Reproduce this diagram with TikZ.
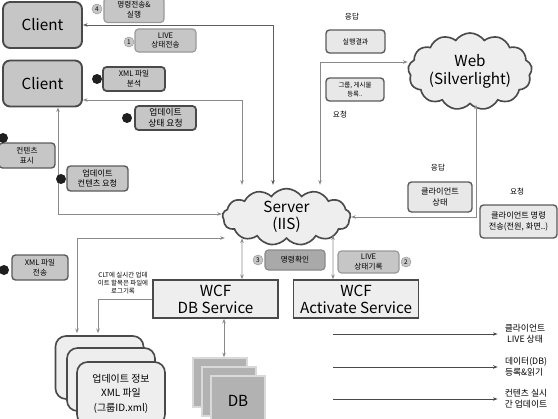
\documentclass[tikz,border=0pt]{standalone}
\usepackage{fontspec}
\setmainfont{Noto Sans CJK KR}
\usetikzlibrary{arrows.meta,positioning,shapes.symbols,calc}

\definecolor{edgedark}{HTML}{4A4A4A}
\definecolor{edgemid}{HTML}{5C5C5C}
\definecolor{edgelight}{HTML}{999999}
\definecolor{fillmid}{HTML}{C6C6C6}
\definecolor{filllight}{HTML}{E8E8E8}
\definecolor{fillpale}{HTML}{EEEEEE}
\definecolor{filldark}{HTML}{A9A9A9}
\definecolor{fillDB}{HTML}{B2B2B2}
\definecolor{linegray}{HTML}{8A8A8A}

\begin{document}
\begin{tikzpicture}[x=0.03cm,y=-0.03cm,
	client/.style={rectangle, rounded corners=6pt, draw=edgedark, fill=fillmid, line width=1.6pt, minimum width=2.37cm, minimum height=1.38cm, font=\fontsize{13}{15}\selectfont},
	srvcloud/.style={cloud, cloud puffs=13, cloud puff arc=110, aspect=2.3, draw=edgedark, fill=fillpale, line width=1.4pt, font=\fontsize{13}{15}\selectfont, align=center, inner sep=0pt},
	wcf/.style={rectangle, draw=edgedark, fill=fillpale, line width=1.4pt, minimum width=3.74cm, minimum height=1.14cm, font=\fontsize{13}{14.5}\selectfont, align=center, inner sep=1pt},
	xmlfile/.style={rectangle, rounded corners=9pt, draw=edgedark, fill=fillpale, line width=1.4pt, minimum width=2.64cm, minimum height=1.89cm},
	dbpage/.style={rectangle, draw=white!85!black, fill=fillDB, line width=1.2pt, minimum width=1.62cm, minimum height=1.47cm, font=\fontsize{13}{15}\selectfont},
	tag/.style={rectangle, rounded corners=3pt, align=center, inner sep=1pt, line width=1pt, font=\fontsize{6.5}{8.5}\selectfont},
	softtag/.style={tag, draw=edgelight, fill=fillmid},
	hardtag/.style={tag, draw=edgedark, fill=fillmid, line width=1.5pt},
	midtag/.style={tag, draw=edgemid, fill=fillmid, line width=1.2pt},
	webtag/.style={tag, draw=edgemid, fill=filllight, line width=1.2pt},
	numdot/.style={circle, draw=edgelight, fill=fillmid, minimum size=0.3cm, inner sep=0pt, font=\fontsize{5.5}{6}\selectfont},
	bulletdot/.style={circle, fill=black!88, minimum size=0.3cm, inner sep=0pt},
	note/.style={align=center, inner sep=1pt, font=\fontsize{6.5}{8.5}\selectfont},
	link/.style={<->, >={Stealth[length=4pt,width=3pt]}, draw=linegray, line width=0.8pt},
	darklink/.style={link, draw=edgemid},
	legendarrow/.style={->, >={Stealth[length=4pt,width=3pt]}, draw=edgedark, line width=0.8pt},
	]
	\useasboundingbox (0,0) rectangle (558,419);
	\clip (0,0) rectangle (558,419);

	% Clients
	\node[client] (client1) at (42.5,25) {Client};
	\node[client] (client2) at (42.5,83.5) {Client};

	% Server and Web
	\node[srvcloud, minimum width=3.84cm, minimum height=1.7cm] (server) at (286.5,217) {Server\\(IIS)};
	\node[srvcloud, minimum width=3.72cm, minimum height=2.31cm] (web) at (470,71.5) {Web\\(Silverlight)};

	% WCF services
	\node[wcf] (dbsvc) at (215.5,299) {WCF\\DB Service};
	\node[wcf] (actsvc) at (356,299) {WCF\\Activate Service};

	% XML files (stack)
	\node[xmlfile] (xmlA) at (99.5,367.5) {};
	\node[xmlfile] (xmlB) at (111,379.5) {};
	\node[xmlfile, align=center, font=\fontsize{8.5}{12.5}\selectfont] (xmlC) at (121,393.5) {업데이트 정보\\XML 파일\\(그룹ID.xml)};

	% DB (stack)
	\node[dbpage] (dbA) at (220,382.5) {};
	\node[dbpage] (dbB) at (229,391.5) {};
	\node[dbpage] (dbC) at (238,400.5) {DB};

	% Connectors
	\draw[darklink] (client1.east) -| ($(server.north)+(-13.5,-3)$);
	\draw[link] ($(client2.east)+(0,16.5)$) -| ($(server.north)+(-44.5,-3)$);
	\draw[link] ($(client2.south)+(15.5,0)$) |- ($(server.west)+(0,-3)$);
	\draw[link] ($(server.west)+(3,21)$) -| ($(xmlA.north)+(-22.5,-2)$);
	\draw[->, >={Stealth[length=4pt,width=3pt]}, draw=linegray, line width=0.8pt] (dbsvc.west) -| ($(xmlA.north)+(-1.5,-2)$);
	\draw[link] ($(server.north)+(33.5,-3)$) |- ($(web.west)+(0,-9.5)$);
	\draw[link] (server.east) -| ($(web.south)+(6,0)$);
	\draw[link] ($(server.south)+(-44.5,-1)$) -- ($(dbsvc.north)+(26.5,0)$);
	\draw[link] ($(server.south)+(46.5,-4)$) -- ($(actsvc.north)+(-23,0)$);
	\draw[link] ($(dbsvc.south)+(8.5,0)$) -- ($(dbA.north)+(4,0)$);

	% Tags on the client side
	\node[softtag, minimum width=1.8cm, minimum height=0.75cm] (tCmdRun) at (134,10) {명령전송\&\\실행};
	\node[numdot] (n4) at (97,9) {4};
	\node[softtag, minimum width=1.83cm, minimum height=0.69cm] (tLiveSend) at (165.5,40.5) {LIVE\\상태전송};
	\node[numdot] (n1) at (129,42) {1};
	\node[hardtag, minimum width=1.86cm, minimum height=0.72cm] (tXmlRead) at (134,79) {XML 파일\\분석};
	\node[bulletdot] (d1) at (97,79) {};
	\node[hardtag, minimum width=1.83cm, minimum height=0.72cm, font=\fontsize{7.5}{9.5}\selectfont] (tUpdState) at (165.5,118) {업데이트\\상태 요청};
	\node[bulletdot] (d2) at (127,118) {};
	\node[midtag, minimum width=1.68cm, minimum height=0.75cm] (tShow) at (27,155.5) {컨텐츠\\표시};
	\node[bulletdot] (d3) at (3,138) {};
	\node[midtag, minimum width=1.83cm, minimum height=0.75cm, font=\fontsize{7}{9}\selectfont] (tUpdCont) at (97.5,178.5) {업데이트\\컨텐츠 요청};
	\node[bulletdot] (d4) at (61,179) {};
	\node[midtag, minimum width=1.68cm, minimum height=0.75cm] (tXmlSend) at (40,267.5) {XML 파일\\전송};
	\node[bulletdot] (d5) at (4,270) {};
	\node[note, font=\fontsize{5.5}{7}\selectfont] (tLog) at (123,283) {CLT에 실시간 업데\\이트 할목은 파일에\\로그기록};

	% Tags between server and services
	\node[tag, draw=edgelight!90!black, fill=filldark, minimum width=1.8cm, minimum height=0.6cm] (tCmdOk) at (295,260) {명령확인};
	\node[numdot] (n3) at (258,260) {3};
	\node[softtag, minimum width=1.83cm, minimum height=0.66cm] (tLiveRec) at (368.5,262) {LIVE\\상태기록};
	\node[numdot] (n2) at (406,262) {2};

	% Tags on the web side
	\node[note] (tResp1) at (352,17) {응답};
	\node[webtag, minimum width=1.77cm, minimum height=0.69cm, font=\fontsize{6}{8}\selectfont] (tResult) at (355.5,41.5) {실행결과};
	\node[webtag, minimum width=1.74cm, minimum height=0.69cm, font=\fontsize{5.5}{7}\selectfont] (tGroup) at (355,89.5) {그룹, 게시물\\등록..};
	\node[note] (tReq1) at (340,115) {요청};
	\node[note] (tResp2) at (438,168) {응답};
	\node[webtag, minimum width=1.92cm, minimum height=0.9cm, font=\fontsize{7}{9}\selectfont] (tCliState) at (440,197) {클라이언트\\상태};
	\node[note] (tReq2) at (517,192) {요청};
	\node[webtag, minimum width=2.31cm, minimum height=0.99cm, font=\fontsize{7}{9.5}\selectfont] (tCliCmd) at (518.5,221.5) {클라이언트 명령\\전송(전원, 화면..)};

	% Legend
	\coordinate (lg1) at (333,334);
	\coordinate (lg2) at (333,367);
	\coordinate (lg3) at (333,399);
	\node[note, font=\fontsize{7.5}{9.5}\selectfont] (lgLive) at (525,334) {클라이언트\\LIVE 상태};
	\node[note, align=left, font=\fontsize{7.5}{9.5}\selectfont] (lgData) at (526,367) {데이터(DB)\\등록\&읽기};
	\node[note, align=left, font=\fontsize{7.5}{9.5}\selectfont] (lgCont) at (526,399) {컨텐츠 실시\\간 업데이트};
	\draw[legendarrow, shorten >=5pt] (lg1) -- (lg1 -| lgLive.west);
	\draw[legendarrow, shorten >=5pt] (lg2) -- (lg2 -| lgData.west);
	\draw[legendarrow, shorten >=5pt] (lg3) -- (lg3 -| lgCont.west);
\end{tikzpicture}
\end{document}
